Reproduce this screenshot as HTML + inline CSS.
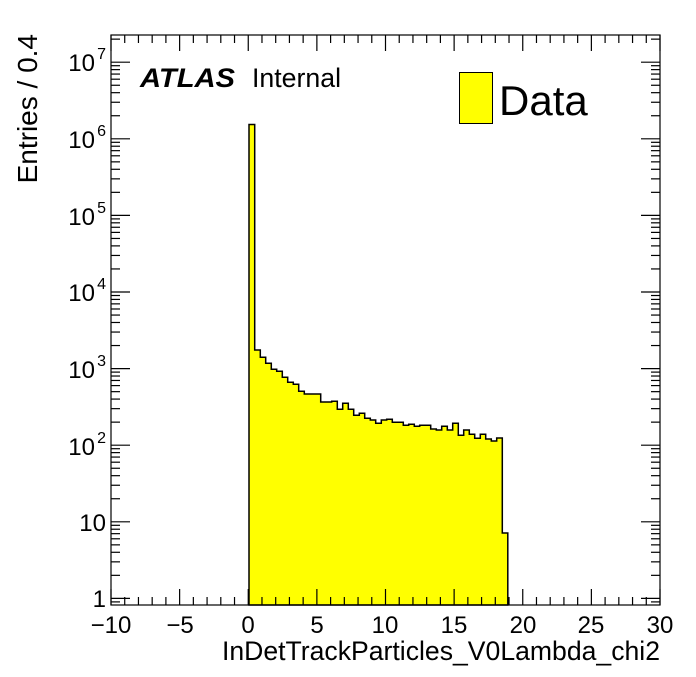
<!DOCTYPE html>
<html><head><meta charset="utf-8"><style>
body{margin:0;background:#fff;}
svg text{font-family:"Liberation Sans",Arial,sans-serif;fill:#000;}
</style></head><body>
<svg width="696" height="672" viewBox="0 0 696 672" xmlns="http://www.w3.org/2000/svg">
<path id="h" d="M249,605 V124.5 H254.7 V350 H260.3 V357.3 H265.7 V363.3 H271.3 V369.3 H276.7 V371.3 H282.3 V377.3 H287.7 V382.3 H293.3 V384.3 H298.7 V391.3 H304.3 V394 H320.7 V402 H331.7 V401.3 H337.3 V409.3 H342.7 V403.3 H348.3 V409.3 H353.7 V415.3 H359.3 V413.3 H364.7 V418.3 H370.3 V420 H375.7 V423.3 H381.3 V420 H386.7 V419.3 H392.3 V422.3 H403.3 V425.3 H408.7 V424.3 H414.3 V426.3 H419.7 V425.3 H430.7 V429 H436.3 V430 H441.7 V426.3 H447.3 V430 H452.7 V423.3 H458.3 V435.3 H463.7 V430 H469.3 V434.3 H474.7 V438.3 H480.3 V434.3 H485.7 V439 H491.3 V441 H496.7 V438 H502.3 V533 H507.8 V605 Z" fill="#ffff00" stroke="#000" stroke-width="1.5"/>
<rect x="111" y="35" width="549" height="570" fill="none" stroke="#000" stroke-width="1.2"/>
<g id="ticks" stroke="#000" stroke-width="1.2"></g>
<g font-size="24" text-anchor="middle">
<text x="111" y="633">−10</text><text x="180" y="633">−5</text><text x="248" y="633">0</text><text x="317" y="633">5</text><text x="385" y="633">10</text><text x="454" y="633">15</text><text x="523" y="633">20</text><text x="591" y="633">25</text><text x="660" y="633">30</text>
</g>
<g font-size="24" text-anchor="end">
<text x="106" y="607">1</text>
<text x="106" y="531">10</text>
<text x="95" y="455">10</text><text x="106" y="443" font-size="16">2</text>
<text x="95" y="378">10</text><text x="106" y="366" font-size="16">3</text>
<text x="95" y="301">10</text><text x="106" y="289" font-size="16">4</text>
<text x="95" y="225">10</text><text x="106" y="213" font-size="16">5</text>
<text x="95" y="148">10</text><text x="106" y="136" font-size="16">6</text>
<text x="95" y="71">10</text><text x="106" y="59" font-size="16">7</text>
</g>
<text x="660" y="660" font-size="26.6" text-anchor="end">InDetTrackParticles_V0Lambda_chi2</text>
<text transform="translate(37,34) rotate(-90)" font-size="28" text-anchor="end">Entries / 0.4</text>
<text x="140" y="87" font-size="27" font-weight="bold" font-style="italic" textLength="95" lengthAdjust="spacingAndGlyphs">ATLAS</text>
<text x="252" y="87" font-size="27" textLength="89" lengthAdjust="spacingAndGlyphs">Internal</text>
<rect x="459.5" y="72.5" width="33" height="51" fill="#ffff00" stroke="#000" stroke-width="1"/>
<text x="499" y="115" font-size="42">Data</text>
</svg>
<script>
var g=document.getElementById('ticks'),s='';
function L(x1,y1,x2,y2){s+='<line x1="'+x1+'" y1="'+y1+'" x2="'+x2+'" y2="'+y2+'"/>';}
for(var v=-10;v<=30;v++){var x=111+(v+10)*13.725;var len=(v%5==0)?16:8;L(x,605,x,605-len);L(x,35,x,35+len);}
var y0=598.4,d=76.6;
for(var e=-1;e<8;e++){for(var m=1;m<10;m++){var y=y0-(e+Math.log10(m))*d;if(y>605||y<35)continue;var len=(m==1)?19:9;L(111,y,111+len,y);L(660,y,660-len,y);}}
g.innerHTML=s;
</script>
</body></html>
